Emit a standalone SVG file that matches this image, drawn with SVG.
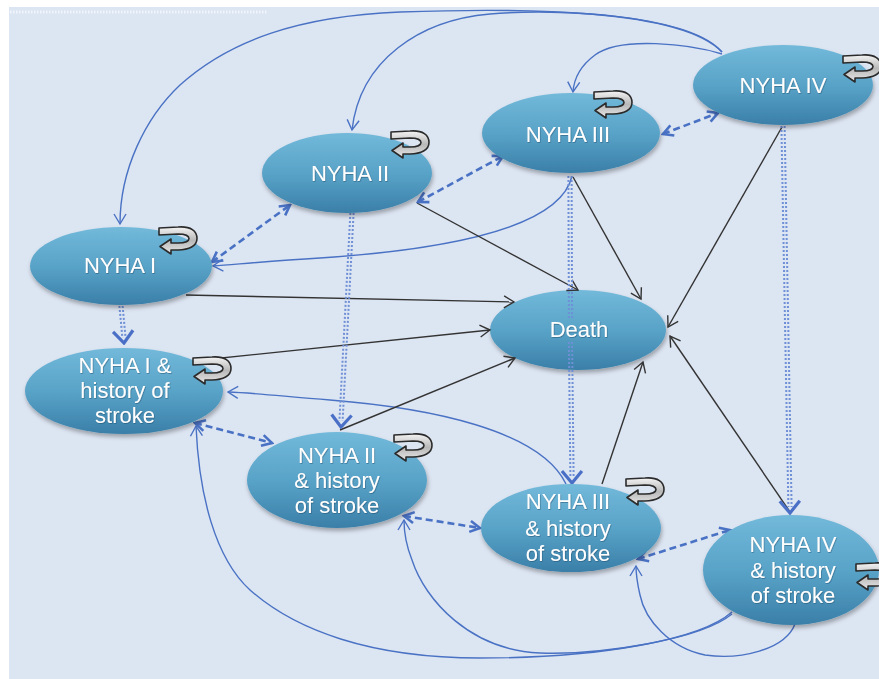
<svg xmlns="http://www.w3.org/2000/svg" xmlns:xlink="http://www.w3.org/1999/xlink" width="879" height="679" viewBox="0 0 879 679">
<style>
.node ellipse{fill:url(#ng);filter:url(#sh);}
.node text{fill:#ffffff;font-family:"Liberation Sans",Arial,sans-serif;font-size:22px;text-anchor:middle;filter:url(#ts);}
.cb{fill:none;stroke:#4a72c4;stroke-width:1.4;marker-end:url(#mb);}
.ck{fill:none;stroke:#333333;stroke-width:1.4;marker-end:url(#mk);}
.dd{fill:none;stroke:#4a72c4;stroke-width:2.6;stroke-dasharray:7 4;marker-start:url(#md);marker-end:url(#md);}
.dt{fill:none;stroke:#6f8fd6;stroke-width:2;stroke-dasharray:2 2;}
.dm{fill:none;stroke:none;marker-end:url(#mv);}
</style>
<defs>
<linearGradient id="ng" x1="0" y1="0" x2="0" y2="1">
<stop offset="0" stop-color="#72b9da"/>
<stop offset="0.5" stop-color="#59a3c8"/>
<stop offset="1" stop-color="#3a7fa8"/>
</linearGradient>
<linearGradient id="lg" x1="0" y1="0" x2="0" y2="1">
<stop offset="0" stop-color="#f4f4f4"/>
<stop offset="0.5" stop-color="#b8b8b8"/>
<stop offset="1" stop-color="#e8e8e8"/>
</linearGradient>
<filter id="sh" x="-20%" y="-20%" width="140%" height="150%">
<feDropShadow dx="1" dy="3" stdDeviation="2" flood-color="#000" flood-opacity="0.3"/>
</filter>
<filter id="ts" x="-10%" y="-20%" width="120%" height="140%">
<feDropShadow dx="0.6" dy="0.8" stdDeviation="0.6" flood-color="#1d4d6a" flood-opacity="0.6"/>
</filter>
<marker id="mb" viewBox="0 0 14 14" refX="12" refY="7" markerWidth="14" markerHeight="14" markerUnits="userSpaceOnUse" orient="auto">
<path d="M2,1 L12,7 L2,13" fill="none" stroke="#4a72c4" stroke-width="1.4"/>
</marker>
<marker id="mk" viewBox="0 0 14 14" refX="12" refY="7" markerWidth="14" markerHeight="14" markerUnits="userSpaceOnUse" orient="auto">
<path d="M2,1 L12,7 L2,13" fill="none" stroke="#333333" stroke-width="1.4"/>
</marker>
<marker id="md" viewBox="0 0 14 14" refX="12" refY="7" markerWidth="14" markerHeight="14" markerUnits="userSpaceOnUse" orient="auto-start-reverse">
<path d="M2,1.5 L12,7 L2,12.5" fill="none" stroke="#4a72c4" stroke-width="2.6"/>
</marker>
<marker id="mv" viewBox="0 0 16 24" refX="14" refY="12" markerWidth="16" markerHeight="24" markerUnits="userSpaceOnUse" orient="auto">
<path d="M2,2 L14,12 L2,22" fill="none" stroke="#4a6fc6" stroke-width="3.2"/>
</marker>
<symbol id="loop" viewBox="0 0 40 30">
<path d="M1,2 L20,1 C33,0 39,5 39,12.5 C39,20 31,24 20,24 L13,24 L13,28 L2,20.5 L13,13 L13,17 L20,17 C27,17 31,15 31,12.5 C31,10 27,8 20,8 L1,9 Z" fill="url(#lg)" stroke="#2b2b2b" stroke-width="1.6" stroke-linejoin="round"/>
</symbol>
</defs>
<rect x="0" y="0" width="879" height="679" fill="#ffffff"/>
<rect x="9" y="7" width="870" height="672" fill="#dce5f2"/>
<line x1="10" y1="12" x2="268" y2="12" stroke="#f2f5fb" stroke-width="3" stroke-dasharray="1.5 1.5"/>

<g id="death" class="node">
<ellipse cx="578" cy="330" rx="88" ry="40"/>
<text x="579" y="337">Death</text>
</g>

<g id="connectors">
<path class="cb" d="M722,52 C680,8 520,8 400,12 C300,16 230,40 180,85 C145,118 120,170 120,224"/>
<path class="cb" d="M722,52 C690,15 560,8 490,14 C420,20 360,60 352,130"/>
<path class="cb" d="M722,54 C690,44 620,36 595,55 C580,66 574,78 573,92"/>
<path class="cb" d="M572,176 C560,230 440,250 320,258 C270,261 240,264 213,266"/>
<path class="cb" d="M566,484 C540,430 430,408 330,400 C280,396 255,393 228,392"/>
<path class="cb" d="M732,612 C700,640 600,658 480,658 C370,658 295,630 250,590 C215,558 199,495 196,426"/>
<path class="cb" d="M732,614 C700,640 600,655 540,653 C470,650 425,600 412,560 C406,545 404,530 404,520"/>
<path class="cb" d="M795,624 C785,650 740,660 705,655 C670,648 645,620 640,595 C637,582 636,575 636,566"/>

<path class="ck" d="M186,295 L514,302"/>
<path class="ck" d="M202,360 L490,330"/>
<path class="ck" d="M340,430 L515,358"/>
<path class="ck" d="M417,203 L578,290"/>
<path class="ck" d="M573,177 L641,299"/>
<path class="ck" d="M782,127 L668,327"/>
<path class="ck" d="M602,484 L643,362"/>
<path class="ck" d="M790,512 L670,336"/>

<path class="dd" d="M212,262 L290,205"/>
<path class="dd" d="M418,202 L503,156"/>
<path class="dd" d="M663,134 L718,113"/>
<path class="dd" d="M195,423 L272,443"/>
<path class="dd" d="M404,516 L480,528"/>
<path class="dd" d="M638,559 L730,530"/>

<path class="dt" d="M119.4,306 L122.4,338"/>
<path class="dt" d="M122.6,306 L125.6,338"/>
<path class="dm" d="M121,306 L124,343"/>
<path class="dt" d="M350.4,213 L339.4,421"/>
<path class="dt" d="M353.6,213 L342.6,421"/>
<path class="dm" d="M352,213 L341,427"/>
<path class="dt" d="M568.4,176 L568.9,318 M568.9,342 L570.4,477"/>
<path class="dt" d="M571.6,176 L572.1,318 M572.1,342 L573.6,477"/>
<path class="dm" d="M570,176 L572,483"/>
<path class="dt" d="M781.4,126 L788.4,507"/>
<path class="dt" d="M784.6,126 L791.6,507"/>
<path class="dm" d="M783,126 L790,513"/>
</g>

<g id="nyha1" class="node">
<ellipse cx="121" cy="266" rx="91" ry="39"/>
<text x="120" y="273">NYHA I</text>
<use href="#loop" x="158" y="226" width="40" height="30"/>
</g>
<g id="nyha2" class="node">
<ellipse cx="347" cy="173" rx="85" ry="40"/>
<text x="350" y="181">NYHA  II</text>
<use href="#loop" x="390" y="130" width="40" height="30"/>
</g>
<g id="nyha3" class="node">
<ellipse cx="571" cy="133" rx="89" ry="40"/>
<text x="568" y="142">NYHA  III</text>
<use href="#loop" x="593" y="90" width="40" height="30"/>
</g>
<g id="nyha4" class="node">
<ellipse cx="783" cy="85" rx="90" ry="40"/>
<text x="783" y="93">NYHA  IV</text>
<use href="#loop" x="842" y="54" width="40" height="30"/>
</g>
<g id="nyha1s" class="node">
<ellipse cx="124" cy="391" rx="99" ry="43"/>
<text x="125" y="373">NYHA I &amp;</text>
<text x="125" y="398">history of</text>
<text x="125" y="423">stroke</text>
<use href="#loop" x="192" y="356" width="40" height="30"/>
</g>
<g id="nyha2s" class="node">
<ellipse cx="337" cy="480" rx="90" ry="48"/>
<text x="337" y="463">NYHA  II</text>
<text x="337" y="488">&amp; history</text>
<text x="337" y="513">of stroke</text>
<use href="#loop" x="393" y="433" width="40" height="30"/>
</g>
<g id="nyha3s" class="node">
<ellipse cx="571" cy="528" rx="90" ry="44"/>
<text x="568" y="509">NYHA  III</text>
<text x="568" y="536">&amp; history</text>
<text x="568" y="561">of stroke</text>
<use href="#loop" x="625" y="477" width="40" height="30"/>
</g>
<g id="nyha4s" class="node">
<ellipse cx="791" cy="570" rx="88" ry="55"/>
<text x="793" y="552">NYHA  IV</text>
<text x="793" y="578">&amp; history</text>
<text x="793" y="603">of stroke</text>
<use href="#loop" x="855" y="562" width="40" height="30"/>
</g>
</svg>
